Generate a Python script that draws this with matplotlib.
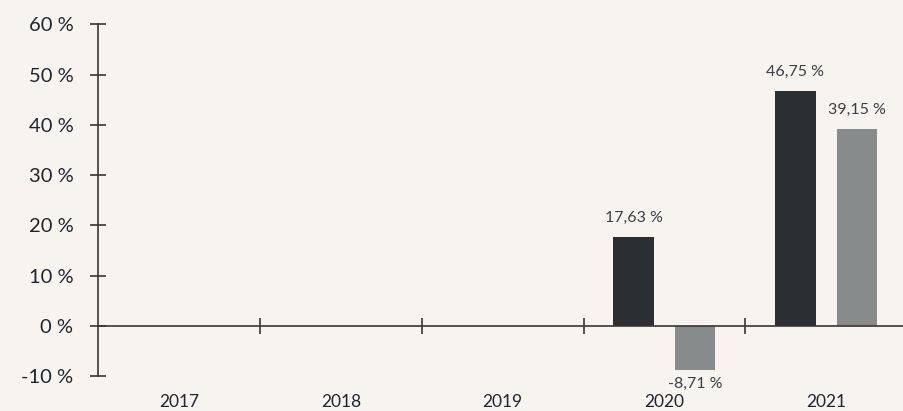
import numpy as np
import matplotlib
matplotlib.use("Agg")
import matplotlib.pyplot as plt

# ---- data ----
years = ["2017", "2018", "2019", "2020", "2021"]
fund = [np.nan, np.nan, np.nan, 17.63, 46.75]
benchmark = [np.nan, np.nan, np.nan, -8.71, 39.15]
y_ticks = [-10, 0, 10, 20, 30, 40, 50, 60]

# ---- style ----
BG = "#f7f4ef"
DARK = "#2b2f32"
GREY = "#888b8c"
AXIS = "#3b3535"
TEXT = "#1f2533"
VAL = "#3a3f48"

plt.rcParams["font.family"] = ["Lato", "DejaVu Sans"]

fig = plt.figure(figsize=(9.04, 4.11), dpi=100, facecolor=BG)
ax = fig.add_axes([98.3 / 904, 1 - 376.3 / 411, (907 - 98.3) / 904, (376.3 - 24.3) / 411])
ax.set_facecolor(BG)

x = np.arange(len(years))
off = 0.19
w = 0.25
b1 = ax.bar(x - off, fund, w, color=DARK, zorder=1)
b2 = ax.bar(x + off, benchmark, w, color=GREY, zorder=1)

def fmt(v):
    return f"{v:.2f}".replace(".", ",") + " %"

for bars, vals in ((b1, fund), (b2, benchmark)):
    for rect, v in zip(bars, vals):
        if np.isnan(v):
            continue
        cx = rect.get_x() + rect.get_width() / 2
        if v >= 0:
            ax.annotate(fmt(v), (cx, v), xytext=(0, 9), textcoords="offset points",
                        ha="center", va="bottom", fontsize=11.5, color=VAL)
        else:
            ax.annotate(fmt(v), (cx, v), xytext=(0, -5), textcoords="offset points",
                        ha="center", va="top", fontsize=11.5, color=VAL)

ax.set_xlim(-0.5, len(years) - 0.5)
ax.set_ylim(-10, 60)

for s in ("top", "right"):
    ax.spines[s].set_visible(False)
ax.spines["left"].set_color(AXIS)
ax.spines["left"].set_linewidth(1.2)
ax.spines["bottom"].set_position(("data", 0))
ax.spines["bottom"].set_color(AXIS)
ax.spines["bottom"].set_linewidth(1.2)
ax.spines["bottom"].set_zorder(3)

ax.set_yticks(y_ticks)
ax.set_yticklabels([f"{t} %" for t in y_ticks])
ax.tick_params(axis="y", direction="inout", length=11, width=1.2, color=AXIS,
               labelsize=14.5, labelcolor=TEXT, pad=12.5)

ax.set_xticks(x)
ax.set_xticklabels(years)
ax.set_xticks(x[:-1] + 0.5, minor=True)
ax.tick_params(axis="x", which="major", length=0, labelsize=12.5, labelcolor=TEXT, pad=49)
ax.tick_params(axis="x", which="minor", direction="inout", length=11, width=1.2, color=AXIS)

fig.savefig("out.png", dpi=100, facecolor=BG)
